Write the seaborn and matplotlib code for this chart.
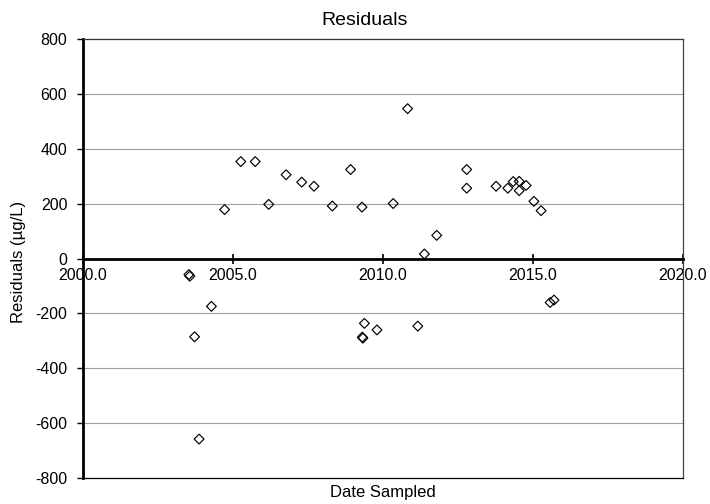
import matplotlib
matplotlib.use("Agg")
import matplotlib.pyplot as plt
from matplotlib.ticker import MultipleLocator, FormatStrFormatter
import seaborn as sns
import pandas as pd

# Sampling dates (decimal years) and model residuals (µg/L)
dates = [2003.53, 2003.56, 2003.72, 2003.87, 2004.28, 2004.72, 2005.26, 2005.74,
         2006.19, 2006.77, 2007.29, 2007.70, 2008.31, 2008.92, 2009.30, 2009.31,
         2009.33, 2009.38, 2009.80, 2010.34, 2010.82, 2011.16, 2011.38, 2011.79,
         2012.79, 2012.79, 2013.77, 2014.16, 2014.34, 2014.54, 2014.54, 2014.77,
         2015.03, 2015.27, 2015.57, 2015.70]
residuals = [-58, -64, -285, -658, -174, 179, 354, 354,
             198, 306, 279, 264, 192, 325, 188, -286,
             -290, -236, -260, 201, 547, -246, 17, 85,
             325, 257, 264, 257, 281, 282, 248, 267,
             209, 175, -160, -151]

df = pd.DataFrame({"date": dates, "resid": residuals})

sns.set_style("white")
plt.rcParams["font.family"] = ["Liberation Sans", "DejaVu Sans"]
plt.rcParams["axes.unicode_minus"] = False
plt.rcParams["text.color"] = "black"
plt.rcParams["xtick.color"] = "black"
plt.rcParams["ytick.color"] = "black"
plt.rcParams["xtick.labelcolor"] = "black"
plt.rcParams["ytick.labelcolor"] = "black"

fig = plt.figure(figsize=(7.1, 5.04), dpi=100)
ax = fig.add_axes([83 / 710, 1 - 478 / 504, 600 / 710, 438.7 / 504])

sns.scatterplot(data=df, x="date", y="resid", ax=ax, marker="D", s=25,
                facecolor="none", edgecolor="black", linewidth=0.85,
                zorder=5, clip_on=False)

ax.set_xlim(2000, 2020)
ax.set_ylim(-800, 800)

# horizontal gridlines
ax.yaxis.set_major_locator(MultipleLocator(200))
for yv in range(-600, 800, 200):
    if yv != 0:
        ax.axhline(yv, color="#a0a0a0", lw=0.8, zorder=1)

# frame
ax.spines["top"].set_color("#333333")
ax.spines["top"].set_linewidth(0.9)
ax.spines["right"].set_color("#444444")
ax.spines["right"].set_linewidth(0.9)
ax.spines["left"].set_color("black")
ax.spines["left"].set_linewidth(2.0)
ax.spines["bottom"].set_position(("data", 0))
ax.spines["bottom"].set_color("black")
ax.spines["bottom"].set_linewidth(2.0)
ax.axhline(-800, color="black", lw=0.9, zorder=3, clip_on=False)

# x axis crossing at zero
ax.xaxis.set_major_locator(MultipleLocator(5))
ax.xaxis.set_minor_locator(MultipleLocator(1))
ax.xaxis.set_major_formatter(FormatStrFormatter("%.1f"))
ax.tick_params(axis="x", which="major", direction="inout", length=7,
               width=1.2, color="black", labelsize=11.5, pad=3)
ax.tick_params(axis="x", which="minor", direction="in", length=3.5,
               width=1.0, color="black")
ax.tick_params(axis="y", which="major", direction="out", length=4.3,
               width=1.0, color="black", labelsize=11.5, pad=7)
ax.tick_params(axis="both", bottom=True, left=True)

ax.set_xlabel("")
ax.set_ylabel("")
ax.grid(False)

fig.text(365 / 710, 1 - 25 / 504, "Residuals", ha="center", va="baseline",
         fontsize=14, color="black")
fig.text(383 / 710, 1 - 497 / 504, "Date Sampled", ha="center", va="baseline",
         fontsize=12, color="black")
fig.text(19 / 710, 1 - 262 / 504, "Residuals (µg/L)", ha="center", va="center",
         rotation=90, fontsize=12, color="black")

fig.savefig("out.png", dpi=100)
